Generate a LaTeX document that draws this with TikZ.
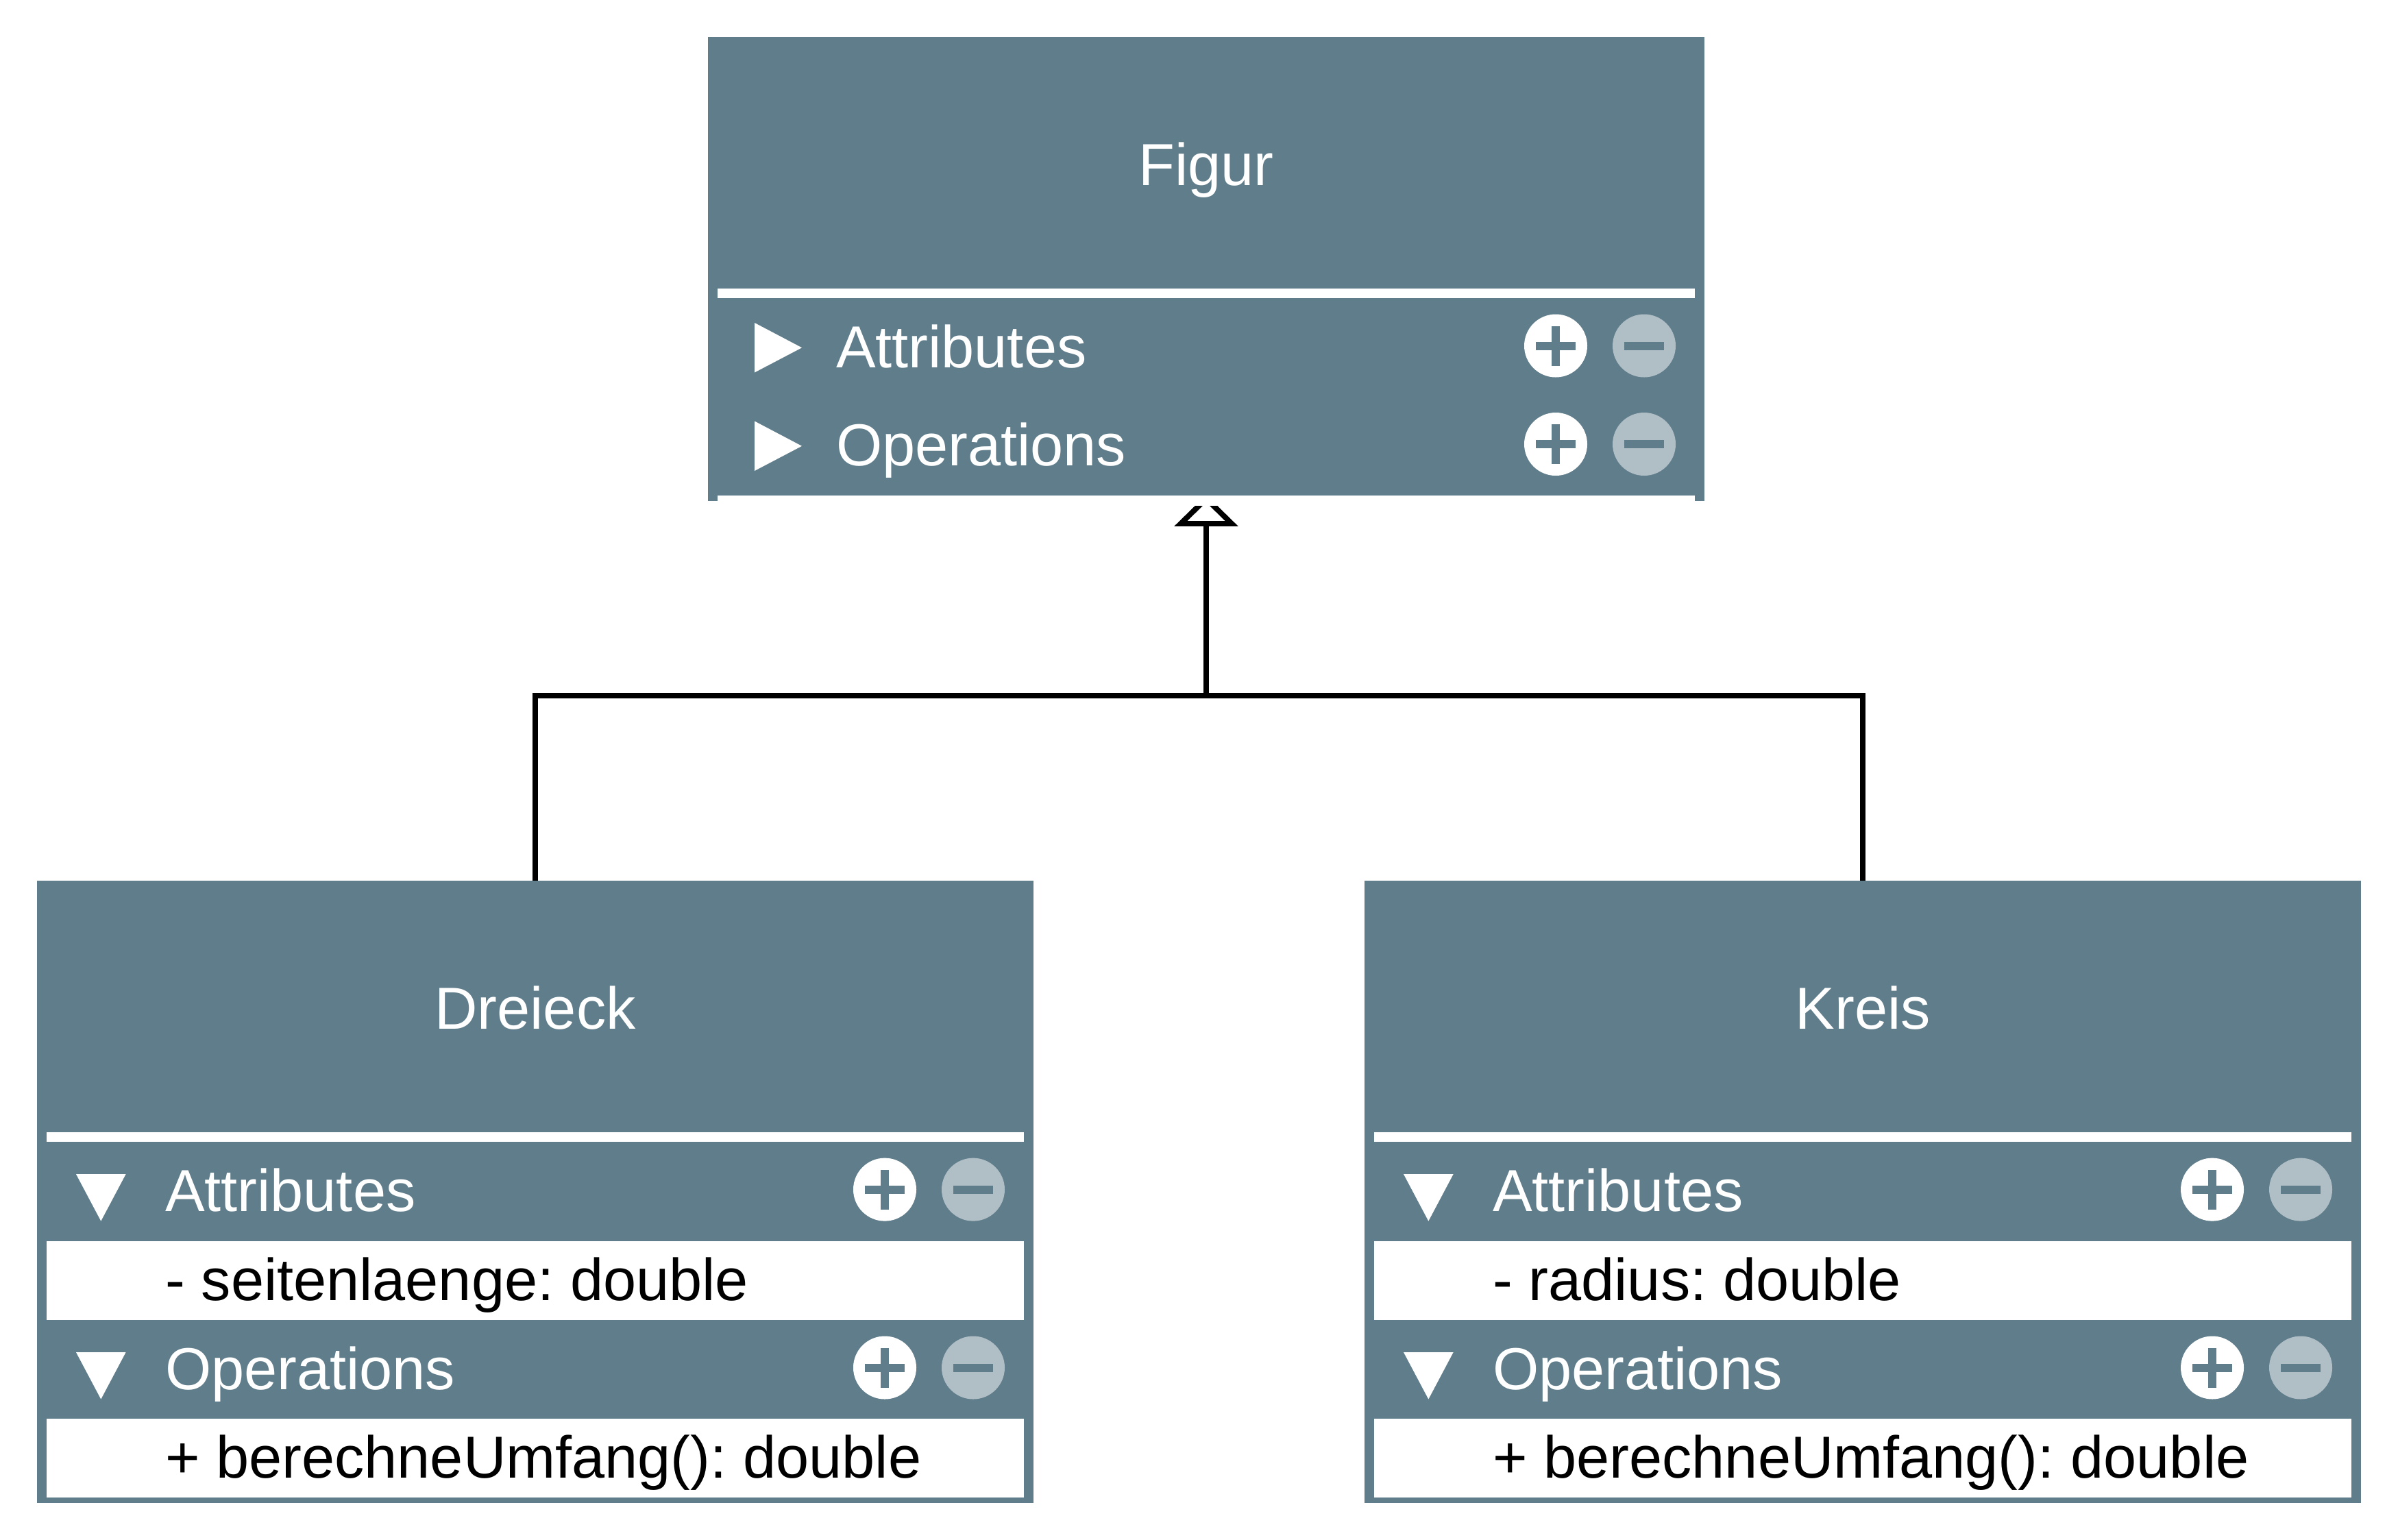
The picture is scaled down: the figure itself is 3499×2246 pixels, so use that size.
\documentclass[tikz,border=0pt]{standalone}
\usepackage{fontspec}
\setmainfont{Liberation Sans}
\frenchspacing
\usetikzlibrary{arrows.meta,backgrounds,calc}
\definecolor{slate}{HTML}{607D8B}
\definecolor{palegrey}{HTML}{B0BEC5}
\tikzset{
  classbox/.style={fill=slate,draw=none,rectangle,inner sep=0pt,outer sep=0pt,anchor=north west,minimum width=1454*0.24pt},
  uitext/.style={font=\fontsize{20.76pt}{24pt}\selectfont,inner sep=0pt,outer sep=0pt,anchor=base west},
  lighttext/.style={uitext,text=white},
  darktext/.style={uitext,text=black},
  titletext/.style={uitext,text=white,anchor=base},
  roundbtn/.style={circle,inner sep=0pt,outer sep=0pt,minimum size=92*0.24pt,draw=none},
  conn/.style={draw=black,line width=1.88pt,line join=miter},
  gen/.style={conn,-{Triangle[open,length=11pt,width=22pt,line width=1.88pt]}},
}
% common part: #1 name, #2 title, #3 box height
\newcommand{\classhead}[3]{%
  \node[classbox,minimum height=#3*0.24pt] (#1) at (54,1285) {};
  \node[titletext] (#1title) at (781,1501) {#2};
  \fill[white] (68,1652) rectangle (1494,1666);
}
% #1 name, #2 row-centre y, #3 label
\newcommand{\rowhead}[3]{%
  \node[lighttext] (#1label) at (241,#2+31.5) {#3};
  \node[roundbtn,fill=white] (#1plus) at (1291,#2) {};
  \fill[slate] ($(#1plus)+(-29,-6)$) rectangle ($(#1plus)+(29,6)$);
  \fill[slate] ($(#1plus)+(-6,-29)$) rectangle ($(#1plus)+(6,29)$);
  \node[roundbtn,fill=palegrey] (#1minus) at (1420,#2) {};
  \fill[slate] ($(#1minus)+(-29,-6)$) rectangle ($(#1minus)+(29,6)$);
}
\newcommand{\triright}[1]{\fill[white] (122,#1-33.5) -- (191,#1+2.8) -- (122,#1+39) -- cycle;}
\newcommand{\tridown}[1]{\fill[white] (111,#1-22.5) -- (183.6,#1-22.5) -- (147.3,#1+46) -- cycle;}
% #1 name, #2 title, #3 attribute, #4 operation
\newcommand{\openclass}[4]{%
  \classhead{#1}{#2}{907.5}
  \rowhead{#1attr}{1735.6}{Attributes}
  \tridown{1735.6}
  \fill[white] (68,1810.5) rectangle (1494,1925.5);
  \node[darktext] (#1attritem) at (241,1897.5) {#3};
  \rowhead{#1oper}{1995.5}{Operations}
  \tridown{1995.5}
  \fill[white] (68,2069.5) rectangle (1494,2185);
  \node[darktext] (#1operitem) at (241,2156.5) {#4};
}
\begin{document}
\begin{tikzpicture}[x=0.24pt,y=-0.24pt]
\useasboundingbox (0,0) rectangle (3499,2246);
\begin{scope}[shift={(979,-1231)}]
  \classhead{figur}{Figur}{677}
  \rowhead{figurattr}{1735.5}{Attributes}
  \triright{1735.5}
  \rowhead{figuroper}{1879}{Operations}
  \triright{1879}
  \fill[white] (68,1954) rectangle (1494,1968.7);
\end{scope}
\begin{scope}
  \openclass{dreieck}{Dreieck}{- seitenlaenge: double}{+ berechneUmfang(): double}
\end{scope}
\begin{scope}[shift={(1937,0)}]
  \openclass{kreis}{Kreis}{- radius: double}{+ berechneUmfang(): double}
\end{scope}
\coordinate (junction) at (1760,1015);
\coordinate (apex) at ($(figur.south)+(0,-9)$);
\begin{pgfonlayer}{background}
  \draw[conn] (dreieck.north) |- (junction);
  \draw[conn] (kreis.north) |- (junction);
  \draw[gen] (junction) -- (apex);
\end{pgfonlayer}
\end{tikzpicture}
\end{document}
